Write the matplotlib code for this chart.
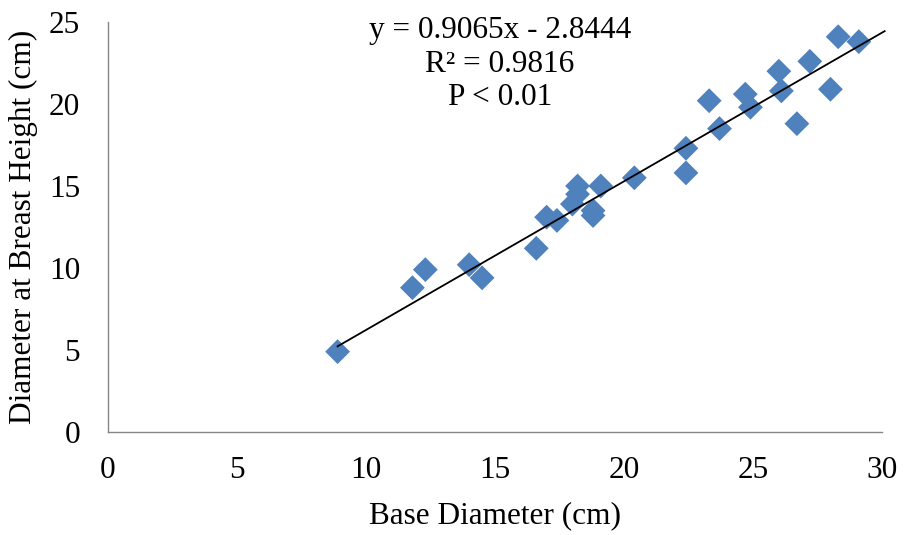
import matplotlib
matplotlib.use("Agg")
import matplotlib.pyplot as plt
import numpy as np

base_diameter = [8.9, 11.8, 12.3, 14.0, 14.5, 16.6, 17.0, 17.4, 18.0, 18.2, 18.2, 18.8, 18.8, 19.1,
                 20.4, 22.4, 22.4, 23.3, 23.7, 24.7, 24.9, 26.0, 26.1, 26.7, 27.2, 28.0, 28.3, 29.1]
dbh = [4.9, 8.8, 9.9, 10.2, 9.4, 11.2, 13.1, 12.9, 13.9, 15.0, 14.5, 13.5, 13.2, 15.0,
       15.5, 15.8, 17.3, 20.2, 18.5, 20.6, 19.8, 22.0, 20.8, 18.8, 22.6, 20.9, 24.1, 23.8]
slope = 0.9065
intercept = -2.8444
r2 = 0.9816
x_ticks = [0, 5, 10, 15, 20, 25, 30]
y_ticks = [0, 5, 10, 15, 20, 25]

plt.rcParams['font.family'] = ['Liberation Serif', 'DejaVu Serif']

fig = plt.figure(figsize=(9.07, 5.35), dpi=100)
ax = fig.add_axes([0.119, 0.1925, 0.8535, 0.7664])

ax.scatter(base_diameter, dbh, marker='D', s=160, color='#4F81BD', edgecolors='none', zorder=3)
xl = np.array([min(base_diameter), 30.1])
ax.plot(xl, slope * xl + intercept, color='black', lw=1.3, zorder=4, clip_on=False)

ax.set_xlim(0, 30)
ax.set_ylim(0, 25)
ax.set_xticks(x_ticks)
ax.set_yticks(y_ticks)
ax.tick_params(length=0, labelsize=22.5)
ax.tick_params(axis='x', pad=17)
ax.tick_params(axis='y', pad=20)
for s in ['top', 'right']:
    ax.spines[s].set_visible(False)
for s in ['left', 'bottom']:
    ax.spines[s].set_color('#868686')
    ax.spines[s].set_linewidth(1.0)

ax.set_xlabel('Base Diameter (cm)', fontsize=22.5, labelpad=12)
ax.set_ylabel('Diameter at Breast Height (cm)', fontsize=22.5, labelpad=8)

ax.text(500 / 907, 1 - 64 / 535, f'y = {slope}x - {abs(intercept)}\nR² = {r2}\nP < 0.01',
        transform=fig.transFigure, ha='center', va='center', fontsize=22.5, linespacing=1.2)
fig.savefig('out.png', dpi=100)
